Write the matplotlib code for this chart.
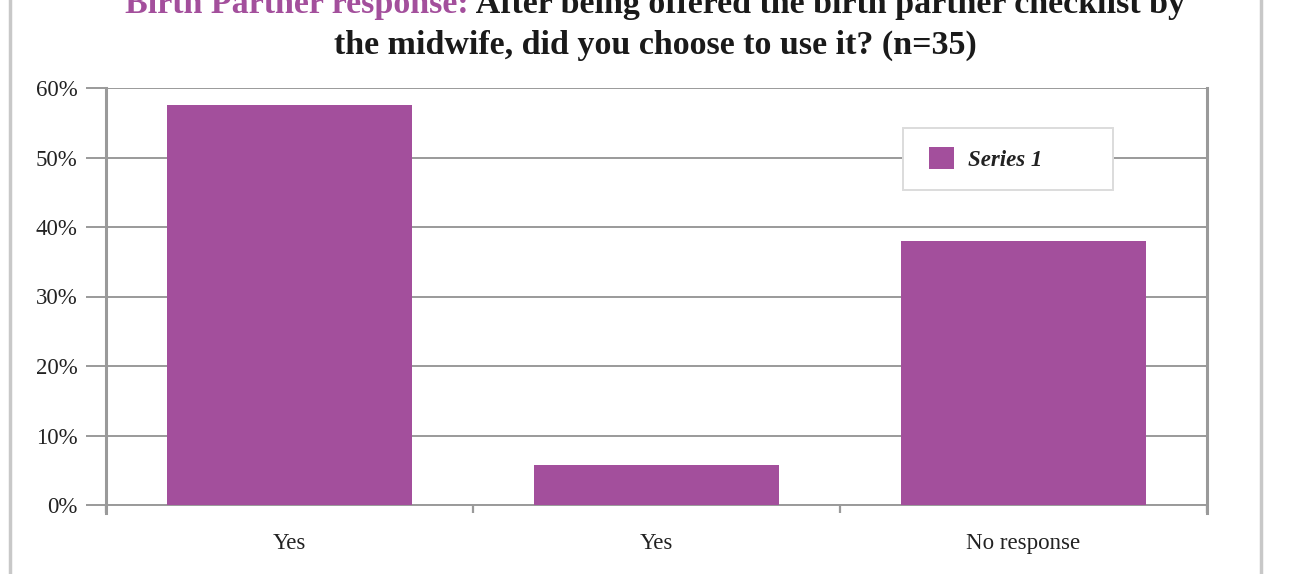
import matplotlib
matplotlib.use("Agg")
import matplotlib.pyplot as plt
from matplotlib.lines import Line2D
from matplotlib.patches import Patch, Rectangle

categories = ["Yes", "Yes", "No response"]
values = [57.6, 5.8, 38.0]
yticks = [0, 10, 20, 30, 40, 50, 60]
series_name = "Series 1"
title_purple = "Birth Partner response:"
title_black1 = " After being offered the birth partner checklist by"
title_line2 = "the midwife, did you choose to use it? (n=35)"

W, H = 1313, 574
fig = plt.figure(figsize=(W / 100, H / 100), dpi=100)
fig.patch.set_facecolor("white")
serif = ["Liberation Serif", "DejaVu Serif"]

ax = fig.add_axes([106 / W, 1 - 505 / H, (1207 - 106) / W, (505 - 88) / H])
bar_color = "#a34f9c"
grid_color = "#9a9a9a"
x = list(range(len(categories)))
ax.bar(x, values, width=0.67, color=bar_color, zorder=3)
ax.set_xlim(-0.5, len(categories) - 0.5)
ax.set_ylim(0, 60)
ax.set_yticks(yticks)
ax.set_yticklabels([f"{v}%" for v in yticks], family=serif, fontsize=16.5, color="#222222")
ax.set_xticks(x)
ax.set_xticklabels(categories, family=serif, fontsize=16.5, color="#222222")
ax.tick_params(axis="x", length=0, pad=20)
ax.tick_params(axis="y", length=14.4, width=1.4, color=grid_color, pad=6, direction="out")
ax.set_xticks([i - 0.5 for i in range(len(categories) + 1)], minor=True)
ax.tick_params(axis="x", which="minor", length=5.8, width=1.6, color=grid_color, direction="out")
ax.yaxis.grid(True, color=grid_color, linewidth=1.4, zorder=0)
for s in ["left", "right"]:
    ax.spines[s].set_color(grid_color)
    ax.spines[s].set_linewidth(2.2)
    ax.spines[s].set_bounds(-1.15, 60)
ax.spines["top"].set_visible(False)
ax.spines["bottom"].set_color(grid_color)
ax.spines["bottom"].set_linewidth(1.4)
ax.set_axisbelow(True)

# legend frame
fig.add_artist(Rectangle((903 / W, 1 - 190 / H), (1113 - 903) / W, (190 - 128) / H,
                         transform=fig.transFigure, facecolor="white", edgecolor="#dcdcdc",
                         linewidth=1.4, zorder=5))
leg = fig.legend(handles=[Patch(facecolor=bar_color, label=series_name)],
                 loc="center left", bbox_to_anchor=(929 / W, 1 - 159 / H),
                 prop={"family": serif, "size": 16.5, "weight": "bold", "style": "italic"},
                 frameon=False, borderpad=0, handlelength=1.1, handleheight=1.1,
                 handletextpad=0.6, borderaxespad=0)
leg.set_zorder(6)
for t in leg.get_texts():
    t.set_color("#222222")

# page frame lines
fig.add_artist(Line2D([10 / W, 10 / W], [0, 1], color="#c8c8c8", linewidth=2.5, transform=fig.transFigure))
fig.add_artist(Line2D([1261 / W, 1261 / W], [0, 1], color="#c8c8c8", linewidth=2.5, transform=fig.transFigure))

# title
tfont = dict(family=serif, fontsize=24.5, fontweight="bold", va="center")
y1 = 1 - 5 / H
t1 = fig.text(0, y1, title_purple, color="#a34f9c", ha="left", **tfont)
t2 = fig.text(0, y1, title_black1, color="#1a1a1a", ha="left", **tfont)
fig.text(655 / W, 1 - 45 / H, title_line2, color="#1a1a1a", ha="center", **tfont)
fig.canvas.draw()
r = fig.canvas.get_renderer()
w1 = t1.get_window_extent(r).width
w2 = t2.get_window_extent(r).width
start = 655 - (w1 + w2) / 2
t1.set_x(start / W)
t2.set_x((start + w1) / W)

fig.savefig("out.png", dpi=100, facecolor="white")
